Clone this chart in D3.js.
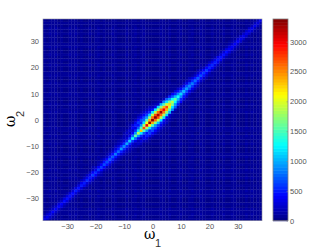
<!DOCTYPE html>
<html>
<head>
<meta charset="utf-8">
<script src="https://d3js.org/d3.v7.min.js"></script>
<style>
body { margin: 0; background: #fff; }
svg { display: block; }
text { font-family: "Liberation Sans", sans-serif; }
.tick text { font-size: 7.5px; fill: #555; }
.tick line, .domain { stroke: #888; }
</style>
</head>
<body>
<svg id="chart" width="332" height="250"></svg>
<script>
const omega = d3.range(-38, 39);
const xTicks = [-30, -20, -10, 0, 10, 20, 30];
const yTicks = [-30, -20, -10, 0, 10, 20, 30];
const barTicks = [0, 500, 1000, 1500, 2000, 2500, 3000];
const maxValue = 3380;

// background stripes, same for rows and columns, omega -38..38
const plaid = [28,25,60,30,58,25,28,25,25,60,30,58,25,28,25,25,58,25,28,60,25,30,25,25,58,28,25,25,25,60,25,28,60,25,28,58,25,25,
  25,25,25,58,28,25,58,25,25,28,58,25,25,28,58,25,25,58,28,25,25,58,25,30,25,58,25,25,58,28,25,25,25,58,25,58,25,28,25];

// values along the diagonals, one array per offset (omega1 - omega2)
const diag0 = [330,360,340,390,370,420,400,450,430,470,440,490,460,520,480,550,510,590,560,630,600,680,650,730,700,800,780,900,880,
  1000,1100,1300,1550,1900,2300,2700,3000,3300,3380,3380,3250,3300,3000,2700,2250,1900,1550,1300,1150,
  1050,950,880,800,750,700,660,620,590,560,530,510,480,470,440,430,410,400,380,370,360,350,340,330,320,330,310,340];
const diag1 = [220,230,220,250,240,270,260,290,270,300,280,310,290,330,310,350,330,380,360,410,390,440,430,480,460,510,500,560,550,
  560,630,760,950,1200,1500,1800,2100,2400,2600,2700,2600,2550,2350,2000,1650,1300,1050,850,730,
  680,640,590,540,500,470,440,410,390,370,350,330,320,300,290,280,270,260,250,240,230,225,220,215,210,205,200];
const diag2 = [110,115,110,125,120,135,130,145,135,150,145,155,150,170,160,180,170,195,185,210,200,230,225,250,245,270,270,290,290,
  280,330,410,530,700,920,1180,1480,1720,1850,1900,1800,1700,1500,1200,950,720,560,450,380,
  360,340,310,280,260,240,215,200,185,170,160,150,140,135,125,120,115,110,105,100,100,95,90,90,85,85];
const diag3 = [65,65,65,70,65,75,70,75,75,80,75,85,80,90,85,100,95,110,105,120,115,130,130,145,145,160,160,170,175,
  170,200,250,330,440,580,750,950,1100,1180,1200,1120,1030,880,690,520,390,300,240,200,
  190,180,165,150,140,125,115,105,100,95,90,85,80,75,70,70,65,65,60,60,60,60,60,60,60];
const diag4Start = 18;
const diag4 = [70,75,80,85,90,95,100,110,125,145,180,230,300,400,520,620,680,680,620,540,440,340,260,200,160,130,110,95,85,75,70,65,60,60];
const diag5Start = 24;
const diag5 = [70,75,85,100,125,160,210,280,340,390,400,380,330,270,210,160,125,100,85,75,70,65];
const diag6Start = 28;
const diag6 = [70,85,110,140,180,220,240,230,200,160,125,100,80,70];
const diag7Start = 30;
const diag7 = [70,85,105,125,135,125,105,90,75,65];
const diagonals = [
  {offset: 0, start: 0, values: diag0},
  {offset: 1, start: 0, values: diag1},
  {offset: 2, start: 0, values: diag2},
  {offset: 3, start: 0, values: diag3},
  {offset: 4, start: diag4Start, values: diag4},
  {offset: 5, start: diag5Start, values: diag5},
  {offset: 6, start: diag6Start, values: diag6},
  {offset: 7, start: diag7Start, values: diag7}
];

const svg = d3.select("#chart");
const plot = {left: 43, right: 262, top: 19, bottom: 220.7};
const bar = {left: 273, right: 288};

const x = d3.scaleLinear().domain([-38.5, 38.5]).range([plot.left, plot.right]);
const y = d3.scaleLinear().domain([-38.5, 38.5]).range([plot.bottom, plot.top]);
const yBar = d3.scaleLinear().domain([0, maxValue]).range([plot.bottom, plot.top]);

// jet colormap in 64 steps like the original
const jetRamp = d3.scaleLinear()
  .domain([0, 0.125, 0.375, 0.625, 0.875, 1])
  .range(["#000080", "#0000ff", "#00ffff", "#ffff00", "#ff0000", "#800000"])
  .interpolate(d3.interpolateRgb);
const jetLevels = d3.range(64).map(i => jetRamp((i + 0.5) / 64));
const color = d3.scaleQuantize().domain([0, maxValue]).range(jetLevels);

let cells = [];
omega.forEach((w2, j) => {
  omega.forEach((w1, i) => {
    cells.push({w1: w1, w2: w2, value: plaid[i] + plaid[j]});
  });
});
function setCell(i, j, value) {
  cells[j * omega.length + i].value = value;
}
diagonals.forEach(d => {
  d.values.forEach((v, k) => {
    const i = d.start + k;
    setCell(i + d.offset, i, v);
    setCell(i, i + d.offset, v);
  });
});

const defs = svg.append("defs");
defs.append("clipPath").attr("id", "plotClip")
  .append("rect")
  .attr("x", plot.left).attr("y", plot.top)
  .attr("width", plot.right - plot.left).attr("height", plot.bottom - plot.top);
defs.append("filter").attr("id", "soft")
  .attr("x", 0).attr("y", 0).attr("width", 1).attr("height", 1)
  .append("feGaussianBlur").attr("stdDeviation", 0.7);

svg.append("g")
  .attr("clip-path", "url(#plotClip)")
  .append("g")
  .attr("filter", "url(#soft)")
  .selectAll("rect")
  .data(cells)
  .enter()
  .append("rect")
  .attr("x", d => x(d.w1 - 0.5))
  .attr("y", d => y(d.w2 + 0.5))
  .attr("width", x(1) - x(0) + 0.3)
  .attr("height", y(0) - y(1) + 0.3)
  .attr("fill", d => color(d.value));

// frame
svg.append("rect")
  .attr("x", plot.left).attr("y", plot.top)
  .attr("width", plot.right - plot.left).attr("height", plot.bottom - plot.top)
  .attr("fill", "none").attr("stroke", "#8a8a9a").attr("stroke-width", 0.6);

const xAxis = svg.append("g")
  .attr("transform", "translate(0," + plot.bottom + ")")
  .call(d3.axisBottom(x).tickValues(xTicks).tickSize(0).tickPadding(3));
const yAxis = svg.append("g")
  .attr("transform", "translate(" + plot.left + ",0)")
  .call(d3.axisLeft(y).tickValues(yTicks).tickSize(0).tickPadding(4));
xAxis.select(".domain").remove();
yAxis.select(".domain").remove();

// colorbar
svg.append("g")
  .selectAll("rect")
  .data(jetLevels)
  .enter()
  .append("rect")
  .attr("x", bar.left)
  .attr("y", (d, i) => yBar((i + 1) * maxValue / 64))
  .attr("width", bar.right - bar.left)
  .attr("height", (plot.bottom - plot.top) / 64 + 0.5)
  .attr("fill", d => d);
svg.append("rect")
  .attr("x", bar.left).attr("y", plot.top)
  .attr("width", bar.right - bar.left).attr("height", plot.bottom - plot.top)
  .attr("fill", "none").attr("stroke", "#808080").attr("stroke-width", 0.8);

const barAxis = svg.append("g")
  .attr("transform", "translate(" + bar.right + ",0)")
  .call(d3.axisRight(yBar).tickValues(barTicks).tickSize(-1.5).tickPadding(3).tickFormat(d3.format("d")));
barAxis.select(".domain").remove();
barAxis.selectAll(".tick text").attr("x", 2);
barAxis.selectAll(".tick line").attr("stroke", "#333").attr("stroke-width", 0.6);

// axis titles with subscripts
svg.append("text")
  .attr("x", 144).attr("y", 238.5)
  .attr("font-size", 14).attr("fill", "#000")
  .style("font-family", "'DejaVu Serif', serif")
  .text("ω");
svg.append("text")
  .attr("x", 155).attr("y", 247)
  .attr("font-size", 11).attr("fill", "#333")
  .text("1");
svg.append("g")
  .attr("transform", "translate(15,127) rotate(-90)")
  .call(g => {
    g.append("text").attr("x", 0).attr("y", 0)
      .attr("font-size", 14).attr("fill", "#000")
      .style("font-family", "'DejaVu Serif', serif")
      .text("ω");
    g.append("text").attr("x", 10).attr("y", 9)
      .attr("font-size", 11).attr("fill", "#333")
      .text("2");
  });
</script>
</body>
</html>
